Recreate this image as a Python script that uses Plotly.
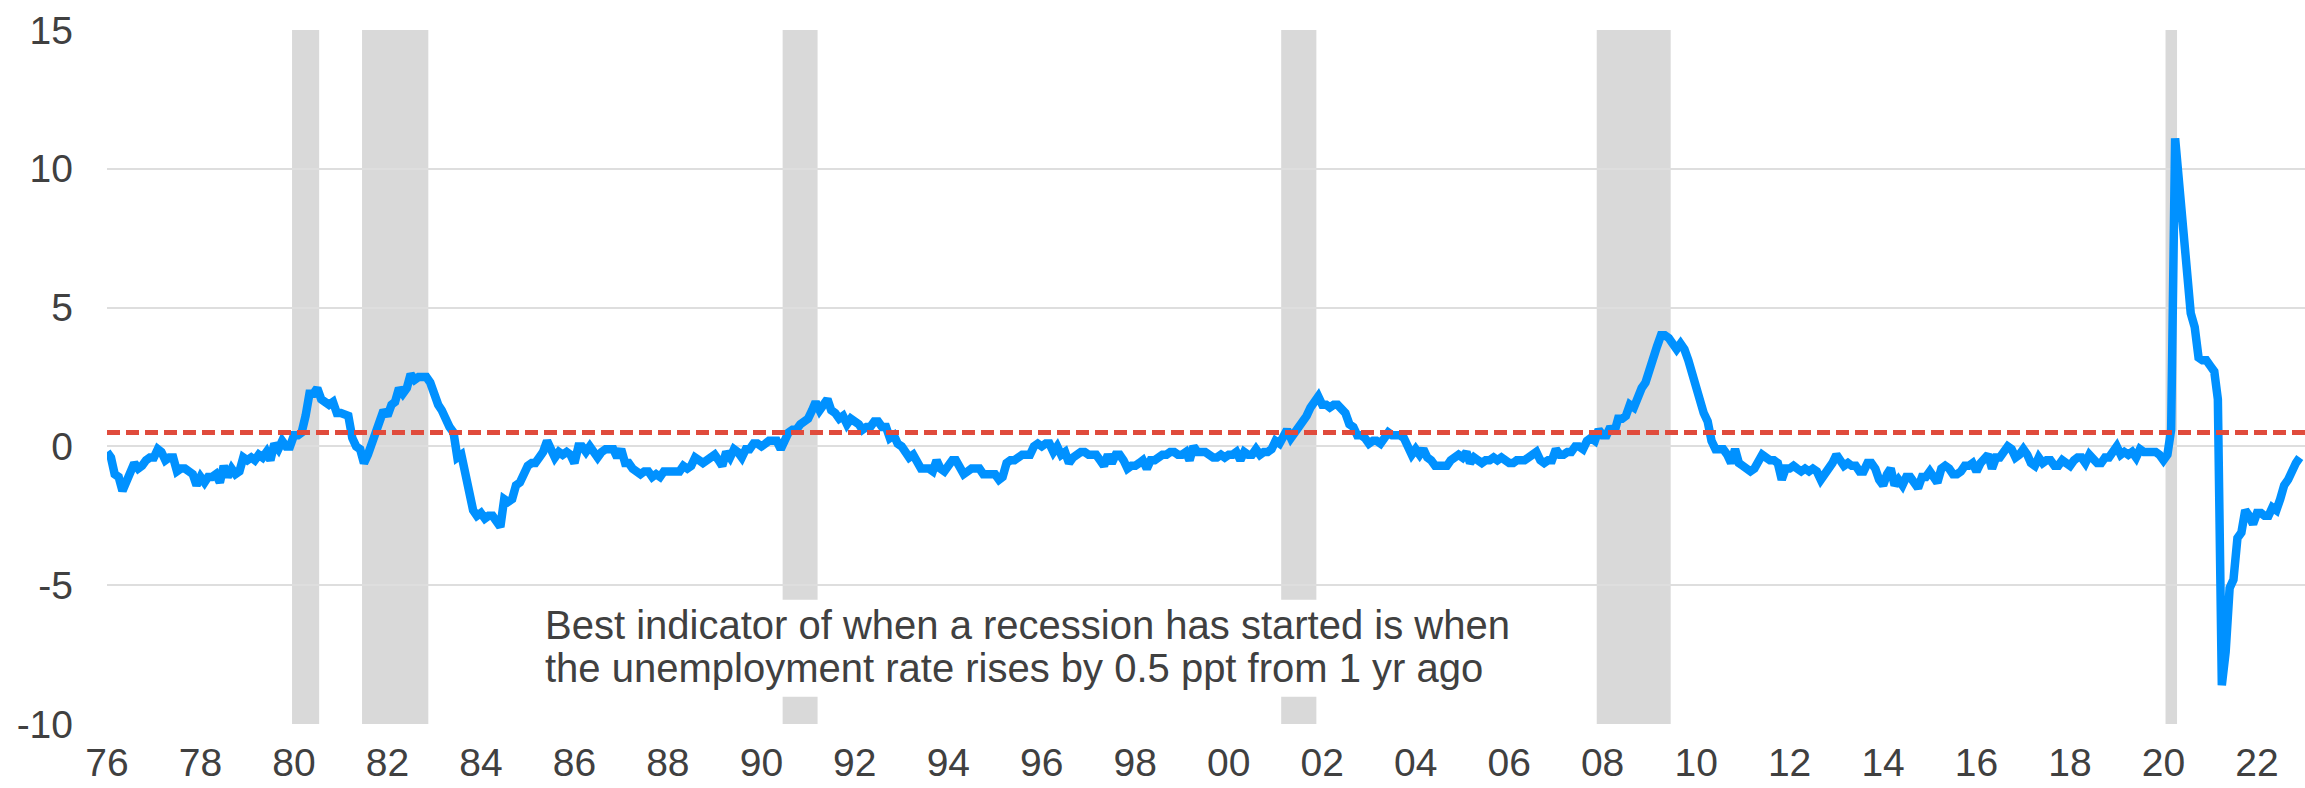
import pandas as pd
import plotly.graph_objects as go

# Year-over-year change in the US unemployment rate, ppt, monthly from Jan 1976
yoy_1976_1980 = [
    -0.2, -0.4, -1.0, -1.1, -1.6, -1.2, -0.8, -0.6, -0.8, -0.7, -0.5, -0.4,
    -0.4, -0.1, -0.2, -0.5, -0.4, -0.4, -0.9, -0.8, -0.8, -0.9, -1.0, -1.4,
    -1.1, -1.3, -1.1, -1.1, -1.0, -1.3, -0.7, -1.1, -0.8, -1.0, -0.9, -0.4,
    -0.5, -0.4, -0.5, -0.3, -0.4, -0.2, -0.5, 0.1, -0.1, 0.2, 0.0, 0.0,
    0.4, 0.4, 0.5, 1.1, 1.9, 1.9, 2.1, 1.7, 1.6, 1.5, 1.6, 1.2,
]
yoy_1981_1985 = [
    1.2, 1.1, 1.1, 0.3, 0.0, -0.1, -0.6, -0.3, 0.1, 0.4, 0.8, 1.3,
    1.1, 1.5, 1.6, 2.1, 1.9, 2.1, 2.6, 2.4, 2.5, 2.5, 2.5, 2.3,
    1.8, 1.5, 1.3, 0.9, 0.7, 0.5, -0.4, -0.3, -0.9, -1.6, -2.3, -2.5,
    -2.4, -2.6, -2.5, -2.5, -2.7, -2.9, -1.9, -2.0, -1.9, -1.4, -1.3, -1.0,
    -0.7, -0.6, -0.6, -0.4, -0.2, 0.2, -0.1, -0.4, -0.2, -0.3, -0.2, -0.3,
]
yoy_1986_1990 = [
    -0.6, 0.0, 0.0, -0.2, 0.0, -0.2, -0.4, -0.2, -0.1, -0.1, -0.1, -0.4,
    -0.1, -0.6, -0.6, -0.8, -0.9, -1.0, -0.9, -0.9, -1.1, -1.0, -1.1, -0.9,
    -0.9, -0.9, -0.9, -0.9, -0.7, -0.8, -0.7, -0.4, -0.5, -0.6, -0.5, -0.4,
    -0.3, -0.5, -0.7, -0.2, -0.4, -0.1, -0.2, -0.4, -0.1, -0.1, 0.1, 0.1,
    0.0, 0.1, 0.2, 0.2, 0.2, -0.1, 0.3, 0.5, 0.6, 0.6, 0.8, 0.9,
]
yoy_1991_1995 = [
    1.0, 1.3, 1.6, 1.3, 1.5, 1.7, 1.3, 1.2, 1.0, 1.1, 0.8, 1.0,
    0.9, 0.8, 0.6, 0.7, 0.7, 0.9, 0.9, 0.7, 0.7, 0.3, 0.4, 0.1,
    0.0, -0.3, -0.4, -0.3, -0.5, -0.8, -0.8, -0.8, -0.9, -0.5, -0.8, -0.9,
    -0.7, -0.5, -0.5, -0.7, -1.0, -0.9, -0.8, -0.8, -0.8, -1.0, -1.0, -1.0,
    -1.0, -1.2, -1.1, -0.6, -0.5, -0.5, -0.4, -0.3, -0.3, -0.3, 0.0, 0.1,
]
yoy_1996_2000 = [
    0.0, 0.1, 0.1, -0.2, 0.0, -0.3, -0.2, -0.6, -0.4, -0.3, -0.2, -0.2,
    -0.3, -0.3, -0.3, -0.5, -0.7, -0.3, -0.6, -0.3, -0.3, -0.5, -0.8, -0.7,
    -0.7, -0.6, -0.5, -0.8, -0.5, -0.5, -0.4, -0.3, -0.3, -0.2, -0.2, -0.3,
    -0.3, -0.2, -0.5, 0.0, -0.2, -0.2, -0.2, -0.3, -0.4, -0.4, -0.3, -0.4,
    -0.3, -0.3, -0.2, -0.5, -0.2, -0.3, -0.3, -0.1, -0.3, -0.2, -0.2, -0.1,
]
yoy_2001_2005 = [
    0.2, 0.1, 0.3, 0.6, 0.3, 0.5, 0.6, 0.8, 1.1, 1.4, 1.6, 1.8,
    1.5, 1.5, 1.4, 1.5, 1.5, 1.3, 1.2, 0.8, 0.7, 0.4, 0.4, 0.3,
    0.1, 0.2, 0.2, 0.1, 0.3, 0.5, 0.4, 0.4, 0.4, 0.3, -0.1, -0.3,
    -0.1, -0.3, -0.1, -0.4, -0.5, -0.7, -0.7, -0.7, -0.7, -0.5, -0.4, -0.3,
    -0.4, -0.2, -0.6, -0.4, -0.5, -0.6, -0.5, -0.5, -0.4, -0.5, -0.4, -0.5,
]
yoy_2006_2010 = [
    -0.6, -0.6, -0.5, -0.5, -0.5, -0.4, -0.3, -0.2, -0.5, -0.6, -0.5, -0.5,
    -0.1, -0.3, -0.3, -0.2, -0.2, 0.0, 0.0, -0.1, 0.2, 0.3, 0.2, 0.6,
    0.4, 0.4, 0.7, 0.5, 1.0, 1.0, 1.1, 1.5, 1.4, 1.8, 2.1, 2.3,
    2.8, 3.4, 3.6, 4.0, 4.0, 3.9, 3.7, 3.5, 3.7, 3.5, 3.1, 2.6,
    2.0, 1.5, 1.2, 0.9, 0.2, -0.1, -0.1, -0.1, -0.3, -0.6, -0.1, -0.6,
]
yoy_2011_2015 = [
    -0.7, -0.8, -0.9, -0.8, -0.6, -0.3, -0.4, -0.5, -0.5, -0.6, -1.2, -0.8,
    -0.8, -0.7, -0.8, -0.9, -0.8, -0.9, -0.8, -0.9, -1.2, -1.0, -0.9, -0.6,
    -0.3, -0.6, -0.7, -0.6, -0.7, -0.7, -0.9, -0.9, -0.6, -0.6, -0.8, -1.2,
    -1.4, -1.0, -0.8, -1.4, -1.2, -1.4, -1.1, -1.1, -1.3, -1.5, -1.1, -1.1,
    -0.9, -1.2, -1.3, -0.8, -0.7, -0.8, -1.0, -1.0, -0.9, -0.7, -0.7, -0.6,
]
yoy_2016_2022 = [
    -0.9, -0.6, -0.4, -0.3, -0.8, -0.4, -0.4, -0.2, 0.0, -0.1, -0.4, -0.3,
    -0.1, -0.3, -0.6, -0.7, -0.4, -0.6, -0.5, -0.5, -0.7, -0.7, -0.5, -0.6,
    -0.7, -0.5, -0.4, -0.4, -0.6, -0.3, -0.5, -0.6, -0.6, -0.4, -0.4, -0.2,
    0.0, -0.3, -0.2, -0.3, -0.2, -0.4, -0.1, -0.2, -0.2, -0.2, -0.2, -0.3,
    -0.5, -0.3, 0.6, 11.1, 9.6, 7.4, 6.5, 4.8, 4.3, 3.2, 3.1, 3.1,
    2.9, 2.7, 1.7, -8.6, -7.4, -5.1, -4.8, -3.3, -3.1, -2.3, -2.5, -2.8,
    -2.4, -2.4, -2.5, -2.5, -2.2, -2.3, -1.9, -1.4, -1.2, -0.8, -0.6, -0.4,
]

# NBER recessions (first and last month)
rec_start = ["1980-01-01", "1981-07-01", "1990-07-01", "2001-03-01", "2007-12-01", "2020-02-01"]
rec_end = ["1980-07-01", "1982-11-01", "1991-03-01", "2001-11-01", "2009-06-01", "2020-04-01"]

threshold = 0.5
y_ticks = [-10, -5, 0, 5, 10, 15]
y_tick_labels = ["-10", "-5", "0", "5", "10", "15"]
note_lines = [
    "Best indicator of when a recession has started is when",
    "the unemployment rate rises by 0.5 ppt from 1 yr ago",
]

values = (yoy_1976_1980 + yoy_1981_1985 + yoy_1986_1990 + yoy_1991_1995
          + yoy_1996_2000 + yoy_2001_2005 + yoy_2006_2010 + yoy_2011_2015
          + yoy_2016_2022)
dates = pd.date_range("1976-01-01", periods=len(values), freq="MS")

x_start = pd.Timestamp("1976-01-01")
x_end = pd.Timestamp("2023-01-11")

FONT = "Liberation Sans, Arial, sans-serif"
TXT = "#404040"

fig = go.Figure()

half_month = pd.Timedelta(days=15)
for s, e in zip(rec_start, rec_end):
    fig.add_shape(type="rect", xref="x", yref="paper",
                  x0=pd.Timestamp(s) - half_month, x1=pd.Timestamp(e) + half_month,
                  y0=0, y1=1, fillcolor="#d9d9d9", line_width=0, layer="between")

# white box behind the note
fig.add_shape(type="rect", xref="x", yref="y",
              x0="1985-03-01", x1="2006-10-01", y0=-9.02, y1=-5.52,
              fillcolor="white", line_width=0, layer="between")

fig.add_trace(go.Scatter(x=dates, y=values, mode="lines",
                         line=dict(color="#0091ff", width=8.5),
                         hoverinfo="skip", showlegend=False))
fig.add_trace(go.Scatter(x=[x_start, x_end], y=[threshold, threshold], mode="lines",
                         line=dict(color="#e04b3c", width=4.8, dash="13px,6px"),
                         hoverinfo="skip", showlegend=False))

fig.add_annotation(x="1985-05-01", y=-6.42, xref="x", yref="y", text=note_lines[0],
                   showarrow=False, xanchor="left", yanchor="middle",
                   font=dict(family=FONT, size=40, color=TXT))
fig.add_annotation(x="1985-05-01", y=-8.0, xref="x", yref="y", text=note_lines[1],
                   showarrow=False, xanchor="left", yanchor="middle",
                   font=dict(family=FONT, size=40, color=TXT))

fig.update_layout(
    width=2305, height=788,
    margin=dict(l=107, r=0, t=30, b=63.5, pad=0),
    paper_bgcolor="white", plot_bgcolor="white",
    showlegend=False,
    font=dict(family=FONT, size=39, color=TXT),
)
fig.update_xaxes(type="date", range=[x_start, x_end], tick0="1976-01-01", dtick="M24",
                 tickformat="%y", showgrid=False, zeroline=False, showline=False,
                 ticks="", automargin=False, ticklabelstandoff=12,
                 tickfont=dict(family=FONT, size=39, color=TXT))
fig.update_yaxes(range=[-10, 15], tickvals=y_ticks, ticktext=y_tick_labels,
                 showgrid=True, gridcolor="#dedede", gridwidth=2, zeroline=False,
                 showline=False, ticks="", automargin=False, ticklabelstandoff=33,
                 tickfont=dict(family=FONT, size=39, color=TXT))

fig.write_html("out.html", config={"displayModeBar": False},
               post_script="document.body.style.margin='0';document.body.style.overflow='hidden';")
